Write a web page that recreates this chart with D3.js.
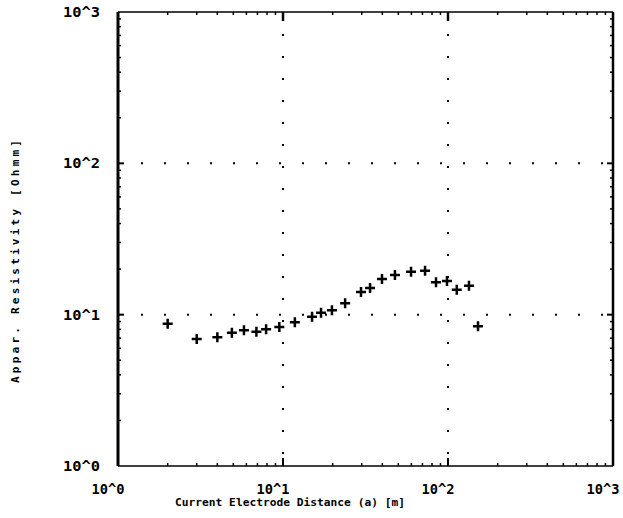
<!DOCTYPE html>
<html>
<head>
<meta charset="utf-8">
<script src="https://cdn.jsdelivr.net/npm/d3@7"></script>
<style>
html,body{margin:0;padding:0;background:#fff;}
svg{display:block;}
</style>
</head>
<body>
<svg id="chart" width="623" height="518"></svg>
<script>
// ---- data ----
const distance = [2.0, 3.0, 4.0, 4.9, 5.8, 6.9, 7.9, 9.5, 11.8, 15.0, 17.0, 19.8, 23.8, 29.7, 33.7, 39.8, 47.7, 59.7, 72.6, 84.6, 98.6, 113, 134, 152];
const resistivity = [8.7, 6.9, 7.1, 7.6, 7.9, 7.7, 8.0, 8.3, 8.9, 9.7, 10.3, 10.7, 11.9, 14.1, 15.0, 17.2, 18.3, 19.2, 19.5, 16.4, 16.7, 14.6, 15.5, 8.4];
const tickValues = [1, 10, 100, 1000];
const tickLabels = ["10^0", "10^1", "10^2", "10^3"];
const xTitle = "Current Electrode Distance (a) [m]";
const yTitle = "Appar. Resistivity [Ohmm]";

// ---- layout ----
const L = 118, R = 613, T = 12, B = 466;
const svg = d3.select("#chart");
const x = d3.scaleLog().domain([1, 1000]).range([L, R]);
const y = d3.scaleLog().domain([1, 1000]).range([B, T]);
const font = "'DejaVu Sans Mono', monospace";

// grid (dotted at decades)
const g = svg.append("g");
[10, 100].forEach(v => {
  g.append("line").attr("x1", x(v)).attr("x2", x(v)).attr("y1", T).attr("y2", B)
    .attr("stroke", "#000").attr("stroke-width", 2).attr("stroke-dasharray", "2,20");
  g.append("line").attr("x1", L).attr("x2", R).attr("y1", y(v)).attr("y2", y(v))
    .attr("stroke", "#000").attr("stroke-width", 2).attr("stroke-dasharray", "2,21");
});

// minor ticks
const minors = [];
[1, 10, 100].forEach(d => { for (let k = 2; k <= 9; k++) minors.push(d * k); });
minors.forEach(v => {
  g.append("line").attr("x1", x(v)).attr("x2", x(v)).attr("y1", B).attr("y2", B - 3).attr("stroke", "#000").attr("stroke-width", 1.5);
  g.append("line").attr("x1", x(v)).attr("x2", x(v)).attr("y1", T).attr("y2", T + 3).attr("stroke", "#000").attr("stroke-width", 1.5);
  g.append("line").attr("y1", y(v)).attr("y2", y(v)).attr("x1", L).attr("x2", L + 3).attr("stroke", "#000").attr("stroke-width", 1.5);
  g.append("line").attr("y1", y(v)).attr("y2", y(v)).attr("x1", R).attr("x2", R - 3).attr("stroke", "#000").attr("stroke-width", 1.5);
});
// major ticks
[10, 100].forEach(v => {
  g.append("line").attr("x1", x(v)).attr("x2", x(v)).attr("y1", B).attr("y2", B - 8).attr("stroke", "#000").attr("stroke-width", 2);
  g.append("line").attr("x1", x(v)).attr("x2", x(v)).attr("y1", T).attr("y2", T + 9).attr("stroke", "#000").attr("stroke-width", 2.5);
  g.append("line").attr("y1", y(v)).attr("y2", y(v)).attr("x1", L).attr("x2", L + 6).attr("stroke", "#000").attr("stroke-width", 2);
  g.append("line").attr("y1", y(v)).attr("y2", y(v)).attr("x1", R).attr("x2", R - 6).attr("stroke", "#000").attr("stroke-width", 2);
});

// frame
g.append("line").attr("x1", L).attr("x2", R).attr("y1", T).attr("y2", T).attr("stroke", "#000").attr("stroke-width", 1.5);
g.append("line").attr("x1", L).attr("x2", R).attr("y1", B).attr("y2", B).attr("stroke", "#000").attr("stroke-width", 1.5);
g.append("line").attr("x1", L).attr("x2", L).attr("y1", T).attr("y2", B).attr("stroke", "#000").attr("stroke-width", 3);
g.append("line").attr("x1", R).attr("x2", R).attr("y1", T).attr("y2", B).attr("stroke", "#000").attr("stroke-width", 2.5);

// tick labels
tickValues.forEach((v, i) => {
  svg.append("text").attr("x", 100).attr("y", y(v) + 5).attr("text-anchor", "end")
    .attr("font-family", font).attr("font-weight", "bold").attr("font-size", 14)
    .attr("textLength", 37).attr("lengthAdjust", "spacingAndGlyphs")
    .text(tickLabels[i]);
  svg.append("text").attr("x", x(v) - 10).attr("y", 494).attr("text-anchor", "middle")
    .attr("font-family", font).attr("font-weight", "bold").attr("font-size", 14)
    .attr("textLength", 33).attr("lengthAdjust", "spacingAndGlyphs")
    .text(tickLabels[i]);
});

// axis titles
svg.append("text").attr("x", 175).attr("y", 506)
  .attr("font-family", font).attr("font-weight", "bold").attr("font-size", 11)
  .attr("textLength", 230).attr("lengthAdjust", "spacingAndGlyphs")
  .text(xTitle);
svg.append("text").attr("transform", "translate(19,383) rotate(-90)")
  .attr("font-family", font).attr("font-weight", "bold").attr("font-size", 11)
  .attr("textLength", 243).attr("lengthAdjust", "spacing")
  .text(yTitle);

// points
const plus = "M-5,0H5M0,-5V5";
svg.append("g").selectAll("path").data(distance).join("path")
  .attr("d", plus)
  .attr("transform", (d, i) => `translate(${x(d)},${y(resistivity[i])})`)
  .attr("stroke", "#000").attr("stroke-width", 2.5).attr("fill", "none");
</script>
</body>
</html>
